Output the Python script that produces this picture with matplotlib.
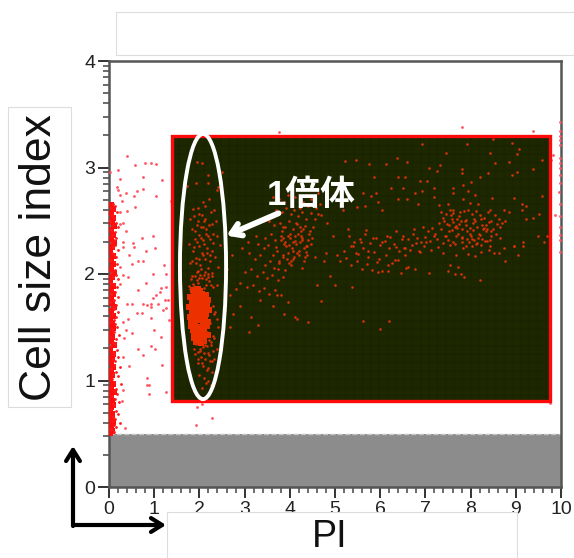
import matplotlib
matplotlib.use('Agg')
import numpy as np
import matplotlib.pyplot as plt
from matplotlib.patches import Rectangle, Ellipse

plt.rcParams['font.family'] = ['Liberation Sans', 'Noto Sans CJK JP', 'DejaVu Sans']

# dead cells piled up on the y axis
edge_x = [0.08,0.14,0.05,0.11,0.17,0.06,0.12,0.03,0.15,0.09,0.19,0.05,0.13,0.07,0.16,0.1,0.04,0.14,0.08,0.2,
          0.06,0.12,0.16,0.03,0.1,0.18,0.07,0.13,0.05,0.15,0.09,0.21,0.04,0.11,0.17,0.07,0.14,0.05,0.19,0.1,
          0.03,0.15,0.08,0.12,0.2,0.06,0.16,0.1,0.04,0.13,0.18,0.07,0.11,0.22,0.05,0.15,0.09,0.13,0.03,0.17,
          0.08,0.12,0.2,0.06,0.14,0.1,0.24,0.05,0.16,0.09,0.19,0.07,0.12,0.26,0.04,0.15,0.1,0.18,0.06,0.13,
          0.22,0.08,0.11,0.05,0.16,0.2,0.09,0.13,0.07,0.24,0.1,0.15,0.05,0.12]
edge_y = [2.66,2.64,2.62,2.6,2.58,2.55,2.53,2.5,2.48,2.46,2.44,2.41,2.39,2.37,2.34,2.32,2.3,2.27,2.25,2.23,
          2.2,2.18,2.16,2.13,2.11,2.09,2.06,2.04,2.02,1.99,1.97,1.95,1.92,1.9,1.88,1.85,1.83,1.81,1.78,1.76,
          1.74,1.71,1.69,1.67,1.64,1.62,1.6,1.57,1.55,1.53,1.5,1.48,1.46,1.43,1.41,1.39,1.36,1.34,1.32,1.29,
          1.27,1.25,1.22,1.2,1.18,1.15,1.13,1.11,1.08,1.06,1.04,1.01,0.99,0.97,0.94,0.92,0.9,0.87,0.85,0.83,
          0.8,0.78,0.76,0.73,0.71,0.69,0.66,0.64,0.62,0.6,0.58,0.56,0.54,0.52]
core_x = [0.05,0.09,0.04,0.08,0.06,0.1,0.04,0.08,0.05,0.1,0.06,0.03,0.09,0.05,0.08,0.04,0.1,0.06,0.03,0.08,
          0.05,0.09,0.04,0.07,0.1,0.05,0.08,0.03,0.06,0.09,0.04,0.07,0.05,0.1,0.03,0.08,0.06,0.04,0.09,0.05,
          0.07,0.03,0.08,0.05,0.1,0.04,0.06,0.09,0.03,0.07,0.05,0.08,0.04,0.06,0.03,0.07,0.05,0.04]
core_y = [2.65,2.61,2.57,2.53,2.49,2.45,2.41,2.37,2.33,2.29,2.25,2.21,2.17,2.13,2.09,2.05,2.01,1.97,1.93,1.89,
          1.85,1.81,1.77,1.73,1.69,1.65,1.61,1.57,1.53,1.49,1.45,1.41,1.37,1.33,1.29,1.25,1.21,1.17,1.13,1.09,
          1.05,1.01,0.97,0.93,0.89,0.85,0.81,0.77,0.73,0.69,0.65,0.61,0.57,0.53,0.51,0.63,0.75,0.87]

# scattered points in the white area
sparse_x = [0.40,0.57,0.80,0.93,1.05,0.21,0.02,0.76,0.24,1.18,0.17,0.21,0.76,0.63,0.37,0.24,0.56,1.05,0.28,1.37,
            0.57,0.39,0.24,0.32,0.24,0.37,0.74,0.98,0.32,0.54,0.56,0.32,0.81,1.02,0.45,0.65,0.76,0.50,0.24,1.22,
            0.97,1.25,0.32,0.43,0.81,0.24,1.25,1.15,1.13,0.65,1.04,1.24,1.31,0.98,1.09,0.76,0.83,0.94,0.94,0.39,
            0.50,0.61,0.72,1.27,1.20,0.94,0.43,0.32,1.33,1.00,0.38,0.50,1.15,0.33,0.94,1.02,0.65,0.76,1.18,0.45,
            0.32,0.85,0.83,0.89,0.89,1.25,0.32,0.28,1.95,2.27,2.06,1.93,0.35,3.77,7.80,9.39,9.83,9.77,9.87,9.76,
            9.98,9.98,9.98,9.97,9.98,9.98,9.98,9.97,9.98,9.98,9.96,9.98,9.98,9.98,9.98,9.97,9.98]
sparse_y = [3.11,3.02,3.04,3.04,3.03,2.98,2.96,2.91,2.89,2.88,2.82,2.79,2.80,2.78,2.76,2.74,2.73,2.73,2.69,2.69,
            2.63,2.59,2.58,2.48,2.47,2.40,2.34,2.36,2.30,2.29,2.25,2.25,2.22,2.24,2.18,2.12,2.12,2.09,2.07,2.08,
            2.00,2.00,1.99,1.97,1.92,1.91,1.88,1.87,1.83,1.85,1.80,1.76,1.76,1.77,1.72,1.72,1.71,1.72,1.69,1.72,
            1.72,1.63,1.63,1.68,1.66,1.59,1.58,1.55,1.57,1.47,1.47,1.45,1.41,1.40,1.32,1.30,1.30,1.24,1.15,1.14,
            1.22,1.02,0.96,0.96,0.87,0.89,0.91,0.81,0.75,0.65,0.78,0.58,0.55,3.33,3.38,3.34,3.12,3.07,2.55,0.79,
            3.43,3.34,3.30,3.26,3.21,3.09,3.04,3.00,2.93,2.85,2.77,2.66,2.54,2.44,2.37,2.32,2.21]

# haploid peak, inside the ellipse
peak_x = [1.87,1.98,2.05,2.14,1.80,1.92,2.01,2.10,2.19,1.84,1.95,2.06,2.16,1.78,1.89,2.00,2.12,2.21,1.83,1.94,
          2.04,2.15,1.79,1.90,2.02,2.13,2.20,1.85,1.96,2.07,2.17,1.81,1.91,2.03,2.11,1.86,1.97,2.08,2.18,1.88,
          1.99,2.09,1.82,1.93,2.05,1.87,1.98,2.10,1.84,1.95,2.06,1.90,2.01,1.86,1.97,1.89,1.92,2.03,2.12,1.94]
peak_y = [1.83,1.82,1.81,1.80,1.78,1.78,1.79,1.77,1.76,1.73,1.74,1.75,1.72,1.69,1.70,1.71,1.68,1.66,1.64,1.65,
          1.66,1.62,1.60,1.61,1.60,1.58,1.55,1.56,1.57,1.55,1.51,1.51,1.52,1.50,1.47,1.47,1.48,1.46,1.43,1.43,
          1.44,1.41,1.55,1.46,1.63,1.40,1.39,1.37,1.60,1.42,1.74,1.76,1.84,1.85,1.86,1.80,1.36,1.35,1.52,1.69]

halo_x = [1.95,2.05,2.2,2.5,2.42,1.93,2.18,1.73,2.39,2.22,2.08,1.97,1.85,2.13,2.33,2.0,1.88,2.25,1.79,2.1,
          2.37,1.94,2.03,2.28,1.83,2.15,2.4,1.9,2.07,2.3,1.76,1.99,2.17,2.45,1.86,2.05,2.23,1.92,2.12,2.35,
          1.8,2.02,2.2,2.42,1.95,2.1,2.27,1.84,2.0,2.14,2.38,1.89,2.07,2.25,1.97,2.18,2.3,2.04,2.13,2.22,
          1.91,2.4,1.96,2.08,2.24,2.33,2.16,2.0,2.1,2.28,2.18,2.26,2.05,2.36,2.14,2.3,2.41,2.12,2.22,2.35,
          1.82,1.9,1.98,2.06,2.14,2.22,2.3,1.86,1.94,2.02,2.1,2.18,2.26,1.8,1.88,1.96,2.04,2.12,2.2,2.28,
          1.84,1.92,2.0,2.08,2.16,2.24,1.78,1.87,1.95,2.03,2.11,2.19,2.27,1.9,1.99,2.07,2.15,2.23,2.31,1.97,
          2.05,2.13,2.21,1.93,2.01,2.09,2.17,2.25,2.33,2.38,2.32,2.29,2.24,2.16,2.02,2.1,1.96,2.06,2.18,2.27]
halo_y = [3.05,3.04,2.93,2.96,2.82,2.85,2.85,2.83,2.79,2.70,2.68,2.62,2.61,2.64,2.60,2.56,2.54,2.58,2.52,2.5,
          2.5,2.46,2.44,2.47,2.42,2.38,2.36,2.33,2.32,2.29,2.28,2.26,2.24,2.27,2.22,2.2,2.18,2.15,2.14,2.16,
          2.1,2.08,2.06,2.07,2.02,1.99,2.01,1.98,1.96,1.95,1.9,1.3,1.31,1.33,1.27,1.26,1.28,1.22,1.2,1.24,
          1.25,1.3,1.16,1.14,1.18,1.2,1.1,1.05,1.02,1.08,1.0,0.96,0.93,1.06,0.98,1.42,1.5,1.33,1.38,1.64,
          1.95,1.98,1.92,1.96,1.9,1.93,1.88,1.91,1.94,1.99,1.87,1.97,1.9,1.86,1.89,2.03,2.05,2.02,2.0,1.98,
          2.12,2.1,2.14,2.18,2.2,2.12,1.89,2.25,2.3,2.34,2.28,2.36,2.22,2.4,2.37,2.44,2.42,2.33,2.38,2.5,
          2.55,2.52,2.46,1.34,1.3,1.37,1.32,1.36,1.4,1.58,1.62,1.7,1.54,1.46,1.28,1.26,1.2,1.16,1.12,1.18]

# main gated population, middle and right
gate_x = [6.92,7.93,8.50,8.91,9.06,9.02,7.45,8.42,6.37,6.60,5.76,6.13,5.22,5.47,8.85,8.54,9.59,7.32,7.08,7.25,
          7.80,7.80,8.38,9.02,9.39,8.91,8.21,6.39,5.87,6.55,7.03,6.87,8.00,7.84,6.24,6.51,7.20,7.60,7.95,6.76,
          6.92,7.62,5.91,5.63,5.79,7.18,8.10,9.59,8.95,5.96,6.39,6.60,6.84,7.29,7.51,7.84,7.99,8.17,8.47,9.14,
          5.66,5.48,5.18,6.03,7.62,8.43,8.73,8.85,9.14,9.22,9.39,9.51,9.22,
          7.35,7.45,7.55,7.62,7.70,7.78,7.85,7.95,8.03,8.12,8.20,8.30,8.38,8.45,8.55,8.62,8.70,
          7.30,7.42,7.52,7.60,7.68,7.75,7.88,7.98,8.06,8.15,8.22,8.33,8.41,8.50,8.58,8.66,8.75,
          6.95,7.05,7.15,7.22,7.34,7.46,7.58,7.72,7.82,7.92,8.00,8.08,8.18,8.26,8.36,8.46,8.56,8.66,
          6.50,6.62,6.72,6.82,6.90,7.00,7.10,7.26,7.38,7.50,7.66,7.80,7.90,8.04,8.14,8.24,8.32,8.44,
          6.55,6.70,6.85,6.98,7.12,7.28,7.40,7.54,7.68,7.84,7.94,8.02,8.10,8.22,8.40,8.52,8.74,8.95,
          5.30,5.42,5.55,5.66,5.78,5.90,6.00,6.10,6.20,6.30,6.42,6.54,5.20,5.35,5.50,5.62,5.74,5.86,
          5.98,6.12,6.26,6.40,5.05,5.12,5.24,5.36,5.48,5.60,5.70,5.82,5.94,6.04,6.18,6.32,6.46,6.58,
          7.50,7.65,7.55,7.72,7.78,7.85,8.20,9.05,9.50,9.62,9.70,8.95,9.15,9.15,8.62,8.75,
          5.95,6.18,6.62,6.78,7.09,5.38,5.00,5.62,6.20,6.00,
          7.40,7.48,7.57,7.66,7.74,7.82,7.90,7.99,8.07,8.16,8.25,8.34,7.44,7.53,7.62,7.71,7.80,7.89,
          7.97,8.05,8.13,8.21,8.29,8.37,8.46,7.58,7.67,7.76,7.93,8.10,8.27,8.42,5.40,5.58,5.72,5.85,
          6.05,6.22,6.36,6.48,6.66,6.80,5.28,5.46,5.68,6.14,6.34,6.52,6.74,6.88,7.02,7.18]
gate_y = [3.22,3.22,3.27,3.23,3.17,3.13,3.14,3.14,3.09,3.05,3.03,3.03,3.06,3.07,3.05,3.04,3.07,3.02,3.00,2.97,
          2.99,2.95,2.95,2.96,2.99,2.93,2.91,2.91,2.91,2.91,2.87,2.87,2.86,2.84,2.81,2.81,2.81,2.81,2.78,2.76,
          2.78,2.76,2.76,2.76,2.73,2.72,2.74,2.73,2.71,2.68,2.70,2.70,2.66,2.65,2.66,2.70,2.67,2.66,2.71,2.66,
          2.64,2.63,2.60,2.60,2.60,2.60,2.60,2.58,2.60,2.64,2.53,2.56,2.52,
          2.58,2.56,2.60,2.57,2.52,2.50,2.59,2.60,2.56,2.59,2.55,2.53,2.58,2.50,2.55,2.52,2.48,
          2.48,2.50,2.46,2.49,2.45,2.47,2.50,2.43,2.48,2.44,2.52,2.46,2.49,2.42,2.47,2.44,2.50,
          2.44,2.40,2.43,2.38,2.42,2.36,2.41,2.38,2.35,2.40,2.36,2.32,2.38,2.33,2.42,2.36,2.38,2.34,
          2.36,2.33,2.38,2.34,2.30,2.35,2.31,2.33,2.29,2.32,2.28,2.30,2.26,2.33,2.29,2.27,2.31,2.26,
          2.24,2.27,2.22,2.26,2.23,2.25,2.20,2.27,2.18,2.24,2.19,2.26,2.17,2.21,2.23,2.20,2.24,2.26,
          2.36,2.30,2.33,2.38,2.29,2.34,2.27,2.31,2.24,2.28,2.22,2.18,2.22,2.26,2.19,2.24,2.16,2.21,
          2.14,2.18,2.10,2.13,2.18,2.12,2.15,2.08,2.12,2.05,2.09,2.04,2.11,2.03,2.08,2.13,2.01,2.06,
          2.03,2.00,2.08,2.07,2.00,1.97,1.94,2.18,2.36,2.30,2.36,2.26,2.30,2.26,2.20,2.12,
          2.02,2.03,2.07,2.05,2.01,1.88,1.90,1.56,1.56,1.48,
          2.53,2.47,2.55,2.44,2.54,2.42,2.51,2.38,2.52,2.34,2.46,2.40,2.36,2.40,2.30,2.43,2.34,2.46,
          2.30,2.41,2.28,2.37,2.43,2.31,2.40,2.52,2.36,2.58,2.33,2.50,2.42,2.32,2.26,2.30,2.22,2.34,
          2.30,2.35,2.25,2.33,2.23,2.29,2.42,2.20,2.41,2.36,2.40,2.24,2.42,2.21,2.30,2.36]

# left hump around PI 4
hump_x = [3.62,3.75,3.88,3.95,4.05,4.12,4.22,4.30,4.40,4.48,4.58,4.66,3.70,3.82,3.92,4.02,4.10,4.18,4.28,4.36,
          4.46,4.55,4.62,3.55,3.65,3.78,3.86,3.98,4.08,4.16,4.24,4.34,4.42,4.52,3.45,3.58,3.68,3.80,3.90,4.00,
          4.14,4.26,4.38,4.50,3.30,3.42,3.52,3.62,3.72,3.85,3.96,4.06,4.20,4.32,3.10,3.22,3.34,3.46,3.56,3.66,
          3.76,3.90,4.02,3.00,3.15,3.28,3.40,3.50,3.60,3.74,3.84,2.90,3.05,3.18,3.32,3.44,3.54,3.68,3.80,2.80,
          2.68,2.60,2.72,2.95,3.08,3.25,3.35,3.62,3.88,4.12,4.70,4.82,4.62,2.55,2.75,3.15,4.80,4.95,4.75,4.55,
          3.72,3.95,2.90,2.68,2.56,3.10,3.30,4.16,4.40,4.70,4.60,4.90,
          3.80,3.88,3.96,4.04,4.12,4.20,4.28,4.36,4.44,3.84,3.92,4.00,4.08,4.16,4.24,4.32,4.40,3.76,3.94,4.06,
          4.18,4.30,4.38,3.70,3.82,3.98,4.10,4.22,4.34,4.46,3.74,3.90,4.03,4.14,4.26,3.86,4.11,4.23,4.35,3.99]
hump_y = [2.72,2.70,2.68,2.74,2.66,2.72,2.62,2.68,2.64,2.70,2.62,2.66,2.60,2.58,2.62,2.56,2.60,2.54,2.58,2.52,
          2.57,2.52,2.56,2.50,2.46,2.48,2.44,2.50,2.42,2.47,2.40,2.45,2.38,2.44,2.34,2.38,2.32,2.36,2.30,2.34,
          2.28,2.32,2.26,2.34,2.28,2.24,2.27,2.18,2.22,2.16,2.20,2.14,2.18,2.12,2.20,2.14,2.18,2.08,2.12,2.06,
          2.10,2.04,2.08,2.02,2.05,1.98,2.02,1.96,1.99,1.94,1.97,1.92,1.88,1.90,1.84,1.87,1.81,1.85,1.80,1.86,
          1.80,2.05,2.18,2.24,2.30,2.36,1.76,1.70,1.62,1.60,2.55,2.48,2.76,1.68,1.62,1.60,2.20,2.36,2.12,2.16,
          1.80,1.74,1.70,1.50,1.66,1.46,1.52,1.58,1.55,1.75,1.90,1.98,
          2.32,2.28,2.36,2.24,2.31,2.22,2.34,2.26,2.40,2.18,2.26,2.38,2.30,2.20,2.36,2.24,2.32,2.12,2.14,2.22,
          2.38,2.42,2.18,2.25,2.40,2.10,2.16,2.44,2.16,2.28,2.05,2.44,2.12,2.48,2.06,2.34,2.36,2.30,2.21,2.27]

x_ticks = [0,1,2,3,4,5,6,7,8,9,10]
y_ticks = [0,1,2,3,4]

fig = plt.figure(figsize=(5.74,5.58), dpi=100)
W, H = 574., 558.
ax = fig.add_axes([109/W, 1-487/H, 452/W, 426/H])
ax.set_xlim(0, 10)
ax.set_ylim(0, 4)

# grey debris band and the gate
ax.add_patch(Rectangle((0,0), 10, 0.5, fc='#8c8c8c', ec='none', zorder=1))
ax.hlines(0.5, 0, 10, color='#c4c4c4', lw=1, ls='--', zorder=2)
ax.add_patch(Rectangle((1.4,0.81), 8.35, 2.49, fc='#1d2700', ec='none', zorder=1))
ax.add_patch(Rectangle((1.4,0.81), 8.35, 2.49, fc='none', ec='#162000', hatch='++', lw=0, alpha=0.35, zorder=1.5))

ax.scatter(core_x, core_y, s=20, marker='s', c='#ff0c0c', lw=0, zorder=3)
ax.scatter(edge_x, edge_y, s=4, marker='o', c='#ff1a1a', lw=0, zorder=3)
ax.scatter(sparse_x, sparse_y, s=4, marker='o', c='#ff5560', lw=0, zorder=3)
ax.scatter(peak_x, peak_y, s=14, marker='s', c='#ec3000', lw=0, zorder=3)
ax.scatter(halo_x, halo_y, s=3.5, marker='o', c='#d63205', lw=0, zorder=3)
ax.scatter(gate_x, gate_y, s=3.5, marker='o', c='#d63205', lw=0, zorder=3)
ax.scatter(hump_x, hump_y, s=3.5, marker='o', c='#d63205', lw=0, zorder=3)

ax.add_patch(Rectangle((1.4,0.81), 8.35, 2.49, fc='none', ec='#ff0a0a', lw=2.4, zorder=4))
ax.add_patch(Ellipse((2.08,2.07), 1.02, 2.49, fc='none', ec='white', lw=2.8, zorder=5))

ax.text(3.50, 2.74, '1倍体', color='white', fontsize=25, fontweight='bold', ha='left', va='center', zorder=6)
ax.annotate('', xy=(2.6,2.36), xytext=(3.75,2.57), zorder=6,
            arrowprops=dict(arrowstyle='->,head_length=0.7,head_width=0.45', color='white', lw=4.2,
                            shrinkA=0, shrinkB=0))

ax.set_xticks(x_ticks)
ax.set_yticks(y_ticks)
ax.set_xticks(np.arange(0, 10.01, 0.2), minor=True)
ax.set_yticks([n+np.log10(k) for n in range(4) for k in range(2,10)], minor=True)
ax.tick_params(which='major', length=8, width=1.4, color='#333333', labelsize=14, pad=2, labelcolor='#222222')
ax.tick_params(which='minor', length=4, width=1.1, color='#444444')
for s in ax.spines.values():
    s.set_linewidth(1.8)
    s.set_color('#555555')

# white pasted label boxes
for x0, y0, x1, y1 in [(116,12,574,55), (8,107,71,407), (167,512,517,558)]:
    fig.add_artist(Rectangle((x0/W,1-y1/H), (x1-x0)/W, (y1-y0)/H, transform=fig.transFigure,
                             fc='white', ec='#dddddd', lw=0.8, zorder=10))
fig.text(40/W, 1-258/H, 'Cell size index', rotation=90, fontsize=32, ha='center', va='center',
         color='#111111', zorder=11)
fig.text(330/W, 1-537/H, 'PI', fontsize=27, ha='center', va='center', color='#111111', zorder=11)

# black axis arrows
for start, end in [((73,526),(73,446)), ((73,525),(166,525))]:
    ax.annotate('', xy=(end[0]/W,1-end[1]/H), xytext=(start[0]/W,1-start[1]/H),
                xycoords='figure fraction', textcoords='figure fraction', annotation_clip=False, zorder=12,
                arrowprops=dict(arrowstyle='->,head_length=0.8,head_width=0.5', color='black', lw=3,
                                shrinkA=0, shrinkB=0))

fig.savefig('out.png', dpi=100)
